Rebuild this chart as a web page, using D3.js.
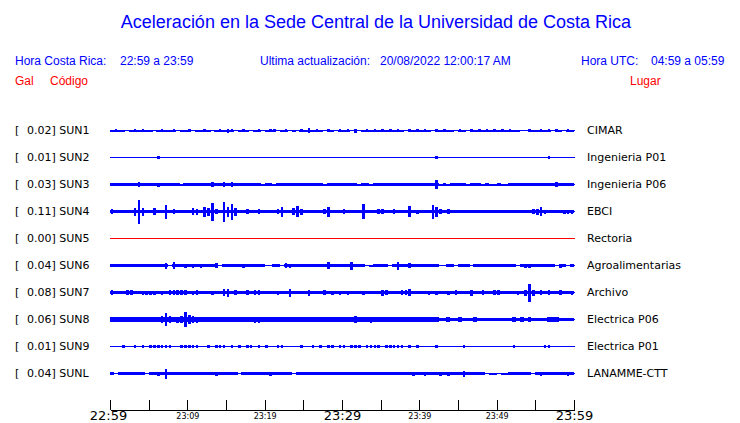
<!DOCTYPE html>
<html><head><meta charset="utf-8">
<script src="https://cdn.jsdelivr.net/npm/d3@7"></script>
<style>html,body{margin:0;padding:0;background:#fff;} svg{display:block;}</style>
</head><body><svg id="c" width="740" height="423"></svg>
<script>
// ---------------- data ----------------
const stations = ["SUN1","SUN2","SUN3","SUN4","SUN5","SUN6","SUN7","SUN8","SUN9","SUNL"];
const peakGal  = ["0.02","0.01","0.03","0.11","0.00","0.04","0.08","0.06","0.01","0.04"];
const places   = ["CIMAR","Ingenieria P01","Ingenieria P06","EBCI","Rectoria","Agroalimentarias","Archivo","Electrica P06","Electrica P01","LANAMME-CTT"];
const tickMinutes = [0,5,10,15,20,25,30,35,40,45,50,55,60];
const tickLabels  = ["22:59","","23:09","","23:19","","23:29","","23:39","","23:49","","23:59"];

// envelope half-amplitude per 30 s window (relative units), 22:59 -> 23:59
const sun1 = [
 1,1.5,1,1,0.5,1,1.7,1,1.5,1, 1,0.5,1,1.5,1,1,1.5,0.5,1,1,
 1.5,0.5,1,1,1.5,1,0.5,1,1.5,1, 2,1.5,0.5,1,1.5,1,0.5,1,1.5,0.5,
 1,1.7,1.5,0.5,1,1.5,0.5,1,0.5,1.5, 1,2.3,1,1.5,1,0.5,1.5,1,0.5,1.5,
 1,1.5,0.5,2,0.5,1,1.5,1,1.5,1, 1.5,1,1.5,1,1.5,1,0.5,1.5,1,1.5,
 1,1.5,1,0.5,1.5,1,1.5,1,1,0.5, 1.5,1,0.5,1.5,1,1.5,1,1.5,1,1.5,
 1,1.5,1,1.5,1,1,0.5,0.5,1.5,1, 1,1.7,1,1.5,0.5,1.5,1,0.5,1.7,1];
const sun2 = [
 0.5,0.5,0.5,0.5,0.5,0.5,0.5,0.5,0.5,0.5, 0.5,0.5,1.7,0.5,0.5,0.5,0.5,0.5,0.5,0.5,
 0.5,0.5,0.5,0.5,0.5,0.5,0.5,0.5,0.5,0.5, 0.5,0.5,0.5,0.5,0.5,0.5,0.5,0.5,0.5,0.5,
 0.5,0.5,0.5,0.5,0.5,0.5,0.5,0.5,0.5,0.5, 0.5,0.5,0.5,0.5,0.5,0.5,0.5,0.5,0.5,0.5,
 0.5,0.5,0.5,0.5,0.5,0.5,0.5,0.5,0.5,0.5, 0.5,0.5,0.5,0.5,0.5,0.5,0.5,0.5,0.5,0.5,
 0.5,0.5,0.5,0.5,1.5,0.5,0.5,0.5,0.5,0.5, 0.5,0.5,0.5,0.5,0.5,0.5,0.5,0.5,0.5,0.5,
 0.5,0.5,0.5,0.5,0.5,0.5,0.5,0.5,0.5,0.5, 0.5,0.5,0.5,1.5,0.5,0.5,0.5,0.5,0.5,0.5];
const sun3 = [
 1.7,1.7,1.7,1.7,1.7,1.7,1.7,2.7,1.7,1.7, 1.7,1.7,2,1.7,1.7,1.7,1.7,1.7,1,1.7,
 1.7,1.7,1.7,1.7,1.7,1.7,2.7,1.7,1.7,2.3, 1.7,2.3,1.7,1.7,1.7,1.7,1.7,1.7,1.7,1,
 1.7,1.7,1,1.7,1.7,1.7,1.7,1.7,1.7,1.7, 1.7,1.7,1.7,1.7,1.7,1,1.7,1.7,1.7,1.7,
 1.7,1.7,1.7,1.7,1,1.7,1.7,1,1.7,1.7, 1.7,1.7,1.7,1.7,1.7,1.7,1.7,1.7,1.7,1.7,
 1.7,1.7,1.7,1.7,4.3,1,1.7,1,1.7,1.7, 1.7,1.7,1,1.7,1.7,1.7,1,1.7,1,1,
 1.7,1,1,1.7,1.7,1.7,1.7,1.7,1.7,1.7, 1.7,1.7,1.7,1.7,1.7,2.3,1.7,1.7,1.7,1.7];
const sun4 = [
 2.7,1.7,1.7,1.7,1.7,1.7,4,12,4,1.7, 1.7,3.3,1.7,1.7,7,1.7,2.3,1.7,1.7,1.7,
 1.7,3.7,3,1.7,5,4,9,2.3,1.7,10, 5,8,4,1.7,1.7,2.3,1.7,1.7,2.3,1.7,
 1.7,1.7,1.7,2.3,5,1.7,1.7,3.7,5.3,3, 1.7,1.7,1.7,1.7,1.7,2.3,5,1.7,1.7,1.7,
 2.7,1.7,1.7,1.7,1.7,7.7,1.7,1.7,1.7,2.7, 2.7,1.7,1.7,2.7,1.7,1.7,1.7,5.3,1.7,2,
 1.7,1.7,1.7,7,5,2.3,1.7,2.3,1.7,1.7, 1.7,1.3,1.3,1.3,1.3,1.3,1.3,1.3,1.3,1.3,
 1.3,1.3,1.3,1.3,1.3,1.3,1.3,1.3,1.3,2.5, 3,4.3,2,1.3,1.3,1.3,1.3,2,2,2];
const sun5 = [
 0,0,0,0,0,0,0,0,0,0, 0,0,0,0,0,0,0,0,0,0,
 0,0,0,0,0,0,0,0,0,0, 0,0,0,0,0,0,0,0,0,0,
 0,0,0,0,0,0,0,0,0,0, 0,0,0,0,0,0,0,0,0,0,
 0,0,0,0,0,0,0,0,0,0, 0,0,0,0,0,0,0,0,0,0,
 0,0,0,0,0,0,0,0,0,0, 0,0,0,0,0,0,0,0,0,0,
 0,0,0,0,0,0,0,0,0,0, 0,0,0,0,0,0,0,0,0,0];
const sun6 = [
 1.2,1.7,1.2,1.2,1.2,1.2,1.2,1.7,1.2,1.2, 1.7,1.2,1.7,1.2,3,0.5,3.5,1.2,1.2,2,
 1.2,2,1.2,2,1.2,1.2,1.2,2.3,0.5,1.2, 1.2,1.2,1.2,1.2,2,1.2,1.2,1.7,1.2,1.7,
 0.5,0.5,1.2,1.2,0.5,2.7,2,1.2,1.2,1.2, 1.7,1.2,1.2,1.7,1.2,1.2,3.8,1.2,1.2,1.2,
 1.2,1.2,4,1.2,1.2,1.2,0.5,1,1.2,1.2, 1.7,1.7,0.5,1.2,4,1.2,1.2,2.7,1.2,1.2,
 1.2,1.7,1.2,1.7,1.2,0.5,0.5,1.2,1.2,0.5, 1.2,1.2,1.2,0.5,1.2,1.2,1.2,1.7,1.7,1.2,
 1.2,1.7,1.2,1.2,1.2,0.5,1.2,2,2,1.2, 1.2,1.2,1.2,1.2,1.2,0.5,2,1.2,0.5,1.2];
const sun7 = [
 2.5,1.7,1.7,1.7,2.7,2.7,1.7,1.7,2,2, 2,2,1.7,2,1.7,2.7,2.7,2.3,2.3,2.3,
 1.7,2,2.3,1.7,1.7,1.7,2,1.7,1.7,3.3, 4,1.7,2.7,1.7,1.7,2.3,1.7,2.3,2.3,1.7,
 1.7,1.7,1.7,2,1.7,1.7,4,1.7,1.7,1.7, 1.7,3,1.7,1.7,1.7,2.7,1.7,2,1.7,2,
 1.7,2,1.7,1.7,1.7,2,1.7,1.7,1.7,1.7, 3,2.3,1.7,1.7,1.7,2.3,2.7,3.3,1.7,1.7,
 1.7,1.7,2,1.7,2,1.7,1.7,2,1.7,2.3, 1.7,1.7,1.7,3,1.7,1.7,2.3,1.7,1.7,2.3,
 2.3,1.7,1.7,1.7,1.7,2,1.7,3,9,3, 1.7,2.3,1.7,2.3,1.7,1.7,2.3,1.7,1.7,2];
const sun8 = [
 2.7,2.3,2.7,2.3,2.7,2.3,2.7,2.7,2.3,2.7, 2.3,2.7,2.3,3.3,6.7,3.3,2.7,3,3.3,7.3,
 4.3,3.3,3,2.7,2.3,2.3,2.3,2.7,2.3,2.7, 2.3,2.3,2.3,2.3,2.3,2.3,2.3,3,3,2.3,
 2.7,2.3,2.3,2.3,2.7,2.3,2.3,2.3,2.3,2.3, 2.3,2.3,2.3,2.3,2.3,2.3,2.3,2.7,2.3,2.7,
 2.7,2.7,2.7,3.3,2.7,2.7,2.7,3,2.3,2.3, 2.3,2.7,2.7,2.7,2.3,2.3,2.3,2.3,2.7,2.7,
 2.3,2.3,2.3,2.7,2.3,1.7,1.7,2.3,1.7,1.7, 2.3,1.7,1.7,1.7,2.3,1.7,1.7,1.7,1.7,1.7,
 1.7,1.7,1.7,1.7,2.3,1.7,2.3,1.7,2.3,1.7, 1.7,1.7,1.7,2.3,2.3,2.3,1.7,1.7,1.7,1.7];
const sun9 = [
 0.5,0.5,0.5,1.2,0.5,0.5,1.2,0.5,1.2,0.5, 1.2,1.2,1.2,1.2,1.2,1.2,0.5,0.5,1.2,1.2,
 1.2,1.2,1.2,0.5,0.5,1.2,0.5,1.2,1.2,1.2, 0.5,1.2,0.5,1.2,0.5,1.2,1.2,0.5,1.2,0.5,
 1.2,0.5,0.5,1.2,1.2,0.5,0.5,0.5,0.5,1.2, 0.5,0.5,1.2,0.5,1.2,0.5,1.2,1.2,0.5,1.2,
 1.2,0.5,1.2,1.2,1.2,0.5,1.2,1.2,1.2,1.2, 0.5,1.2,1.2,1.2,1.2,1.2,0.5,1.2,0.5,1.2,
 0.5,0.5,0.5,0.5,1.2,0.5,0.5,0.5,0.5,0.5, 0.5,1.2,0.5,0.5,0.5,0.5,0.5,0.5,0.5,0.5,
 0.5,0.5,0.5,0.5,1.2,0.5,0.5,0.5,0.5,0.5, 0.5,0.5,1.2,1.2,0.5,0.5,0.5,0.5,0.5,0.5];
const sunL = [
 1.3,0.5,1.3,1.3,1.3,1.3,1.3,1.3,1.3,0.8, 1.3,1.3,2,1.3,5,1.3,1.3,1.3,1.3,1.3,
 1.3,1.3,1.3,1.3,1.3,1.3,1.3,2,1.3,1.3, 1.3,1.3,1.3,0.8,1.3,1.3,1.3,1.3,1.3,1.3,
 1.3,2,1.3,1.3,1.3,1.3,1.3,0.8,1.3,1.3, 1.3,1.3,1.3,1.3,1.3,1.3,1.3,1.3,1.3,1.3,
 1.3,1.3,1.3,1.3,1.3,1.3,1.3,1.3,1.3,1.3, 1.3,1.3,1.3,1.3,1.3,1.3,1.3,1.3,2,1.3,
 1.3,2,1.3,1.3,1.3,2,1.3,2,1.3,1.3, 1.3,3,1.3,1.3,1.3,1.3,1.3,0.5,1,1,
 0.5,1,1,1.3,1.3,1.3,1.3,1.3,1.3,0.5, 1.3,2,1.3,1.3,1.3,1.3,1.3,1.3,2,1.3];

// ---------------- drawing ----------------
const traces = [sun1,sun2,sun3,sun4,sun5,sun6,sun7,sun8,sun9,sunL];
const BLUE = "#0000ff", RED = "#ff0000";
const svg = d3.select("#c");
svg.append("rect").attr("width",740).attr("height",423).attr("fill","#fff");

const x = d3.scaleLinear().domain([0,60]).range([110,574]);
const y = d3.scalePoint().domain(stations).range([130.5,373.5]);
const amp = d3.scaleLinear().domain([0,12]).range([0,12]);

const sans = "'Liberation Sans', Arial, Helvetica, sans-serif";
const dv = "'DejaVu Sans', sans-serif";

// title
svg.append("text").attr("x",376).attr("y",28).attr("text-anchor","middle")
  .attr("font-family",sans).attr("font-size",18).attr("fill",BLUE)
  .text("Aceleración en la Sede Central de la Universidad de Costa Rica");

const hdr = [
  {t:"Hora Costa Rica:", x:15, y:65, c:BLUE},
  {t:"22:59 a 23:59", x:120, y:65, c:BLUE},
  {t:"Ultima actualización:", x:260, y:65, c:BLUE},
  {t:"20/08/2022 12:00:17 AM", x:380, y:65, c:BLUE},
  {t:"Hora UTC:", x:581, y:65, c:BLUE},
  {t:"04:59 a 05:59", x:651, y:65, c:BLUE},
  {t:"Gal", x:15, y:85, c:RED},
  {t:"Código", x:50, y:85, c:RED},
  {t:"Lugar", x:630, y:85, c:RED}
];
svg.append("g").selectAll("text").data(hdr).join("text")
  .attr("x",d=>d.x).attr("y",d=>d.y).attr("fill",d=>d.c)
  .attr("font-family",sans).attr("font-size",12).text(d=>d.t);

// rows
const rows = svg.append("g").selectAll("g").data(stations).join("g");
rows.each(function(s,i){
  const g = d3.select(this);
  const yc = y(s);
  const vals = traces[i];
  const col = (+peakGal[i] === 0) ? RED : BLUE;
  const dt = 60/vals.length;
  const base = d3.median(vals);
  const pts = vals.map((v,k)=>({t:k*dt, v}));
  pts.push({t:60, v:vals[vals.length-1]});
  // continuous noise band (capped at typical level) ...
  const area = d3.area().curve(d3.curveStepAfter)
    .x(d=>x(d.t)).y0(d=>yc+amp(Math.min(d.v,base))).y1(d=>yc-amp(Math.min(d.v,base)));
  g.append("line").attr("x1",x(0)).attr("x2",x(60)+1).attr("y1",yc).attr("y2",yc)
    .attr("stroke",col).attr("stroke-width",1).attr("shape-rendering","crispEdges");
  g.append("path").attr("d",area(pts)).attr("fill",col).attr("shape-rendering","crispEdges");
  // ... and narrow bursts where the window peak exceeds it
  const peaks = pts.slice(0,-1).filter(d=>d.v>base);
  g.selectAll("rect.pk").data(peaks).join("rect").attr("class","pk")
    .attr("x",d=>x(d.t+dt/2)-1.25).attr("width",2.5)
    .attr("y",d=>yc-amp(d.v)).attr("height",d=>2*amp(d.v))
    .attr("fill",col).attr("shape-rendering","crispEdges");
  g.append("text").attr("x",15).attr("y",yc+3.8).attr("font-family",dv).attr("font-size",11)
    .attr("fill","#000").text("[");
  g.append("text").attr("x",27).attr("y",yc+3.8).attr("font-family",dv).attr("font-size",11)
    .attr("fill","#000").text(peakGal[i]+"] "+s);
  g.append("text").attr("x",587).attr("y",yc+3.8).attr("font-family",dv).attr("font-size",11)
    .attr("fill","#000").text(places[i]);
});

// time axis
const axis = d3.axisBottom(x).tickValues(tickMinutes).tickSizeInner(-9.5).tickSizeOuter(0)
  .tickPadding(4).tickFormat((d,i)=>tickLabels[i]);
const ax = svg.append("g").attr("transform","translate(0,409.5)").call(axis);
ax.select(".domain").attr("stroke","#000").attr("shape-rendering","crispEdges");
ax.selectAll(".tick line").attr("stroke","#000").attr("shape-rendering","crispEdges");
ax.selectAll(".tick text").attr("font-family",dv).attr("fill","#000")
  .attr("dy",null)
  .attr("y",(d,i)=> (i%6===0) ? 10.3 : 9.0)
  .attr("dx",(d,i)=> i===0 ? -2 : 0)
  .attr("font-size",(d,i)=> (i%6===0) ? 13 : 8);
</script></body></html>
